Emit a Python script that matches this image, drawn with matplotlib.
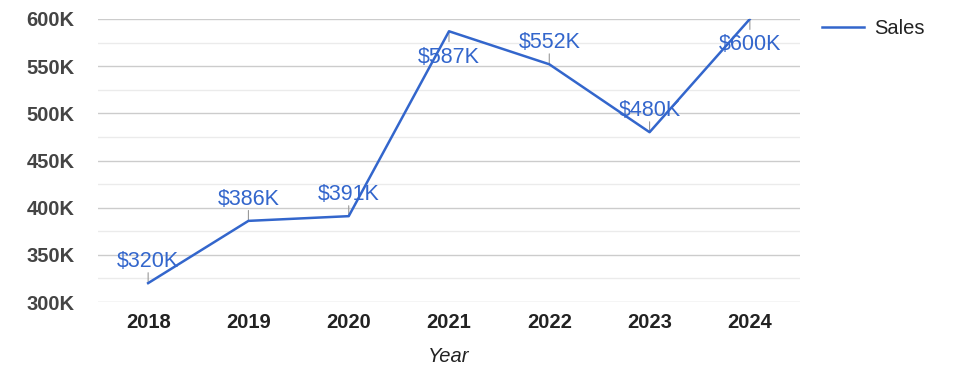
import matplotlib.pyplot as plt
from matplotlib.ticker import MultipleLocator, FuncFormatter

plt.rcParams['font.family'] = ['Liberation Sans', 'DejaVu Sans']

# --- data ---
years = ['2018', '2019', '2020', '2021', '2022', '2023', '2024']
sales = [320000, 386000, 391000, 587000, 552000, 480000, 600000]
labels = ['$320K', '$386K', '$391K', '$587K', '$552K', '$480K', '$600K']

LINE_COLOR = '#3366cc'
Y_MIN, Y_MAX = 300000, 600000

fig = plt.figure(figsize=(9.75, 3.78), dpi=100)
ax = fig.add_axes([98 / 975, 1 - 302 / 378, 702 / 975, 283 / 378])

x = list(range(len(years)))
line, = ax.plot(x, sales, color=LINE_COLOR, linewidth=1.8, label='Sales', zorder=3)

# data labels with short leader lines; flip below near the top edge
for xi, v, lab in zip(x, sales, labels):
    below = v > Y_MIN + 0.9 * (Y_MAX - Y_MIN)
    sign = -1 if below else 1
    ax.annotate('', xy=(xi, v), xytext=(0, 7.5 * sign), textcoords='offset points',
                arrowprops=dict(arrowstyle='-', color='#999999', lw=0.8,
                                shrinkA=0, shrinkB=0), zorder=2)
    ax.annotate(lab, xy=(xi, v), xytext=(0, (11 if below else 8) * sign),
                textcoords='offset points',
                ha='center', va='top' if below else 'bottom',
                fontsize=15.5, color=LINE_COLOR, zorder=4)

ax.set_xlim(-0.5, len(years) - 0.5)
ax.set_ylim(Y_MIN, Y_MAX)
ax.set_xticks(x)
ax.set_xticklabels(years)
ax.yaxis.set_major_locator(MultipleLocator(50000))
ax.yaxis.set_minor_locator(MultipleLocator(25000))
ax.yaxis.set_major_formatter(FuncFormatter(lambda v, _: f'{int(v / 1000)}K'))

ax.grid(axis='y', which='major', color='#cccccc', linewidth=1)
ax.grid(axis='y', which='minor', color='#ebebeb', linewidth=1)
ax.set_axisbelow(True)
for s in ax.spines.values():
    s.set_visible(False)
ax.tick_params(axis='both', which='both', length=0)
ax.tick_params(axis='y', pad=17, labelsize=14.5, labelcolor='#444444')
ax.tick_params(axis='x', pad=8, labelsize=14.5, labelcolor='#222222')
for t in ax.get_xticklabels() + ax.get_yticklabels():
    t.set_fontweight('bold')

ax.set_xlabel('Year', fontsize=14.5, style='italic', color='#222222', labelpad=11)

fig.legend(handles=[line], loc='upper left', bbox_to_anchor=(822 / 975, 1 - 19 / 378),
           frameon=False, fontsize=14.5, handlelength=2.1, handletextpad=0.5,
           borderpad=0, borderaxespad=0, labelcolor='#222222')

fig.savefig('out.png', dpi=100)
